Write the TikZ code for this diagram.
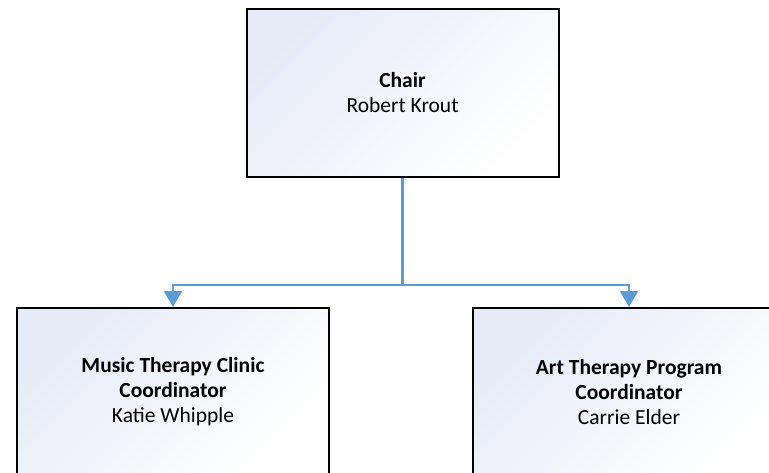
\documentclass[tikz,border=0pt]{standalone}
\usepackage{fontspec}
\setmainfont{Carlito}
\usetikzlibrary{positioning, arrows.meta}

\definecolor{boxtint}{HTML}{E6EBF7}
\definecolor{linkblue}{HTML}{5B9BD5}

\begin{document}
\begin{tikzpicture}[x=1pt, y=-1pt, >=Stealth,
  role/.style={draw, line width=2pt, minimum width=312pt,
    minimum height=168pt, align=center, inner sep=0pt,
    font=\fontsize{21.5}{25}\selectfont,
    top color=boxtint, bottom color=white, shading angle=45},
  link/.style={draw=linkblue, line width=2.2pt,
    -{Triangle[width=18pt, length=16pt]}, linkblue}]

\useasboundingbox (0,0) rectangle (769,472);
\clip (0,0) rectangle (769,472);

% --- Chair (top) ---
\node[role] (chair) at (402.5, 93) {\textbf{Chair}\\Robert Krout};

% --- Coordinators (bottom) ---
\node[role] (music) at (173, 392)
  {\textbf{Music Therapy Clinic}\\\textbf{Coordinator}\\Katie Whipple};
\node[role] (art) at (629, 392)
  {\textbf{Art Therapy Program}\\\textbf{Coordinator}\\Carrie Elder};

% Branch point
\coordinate (split) at (402.5, 285);

\draw[link] (chair.south) -- (split) -| (music.north);
\draw[link] (split) -| (art.north);

\end{tikzpicture}
\end{document}
